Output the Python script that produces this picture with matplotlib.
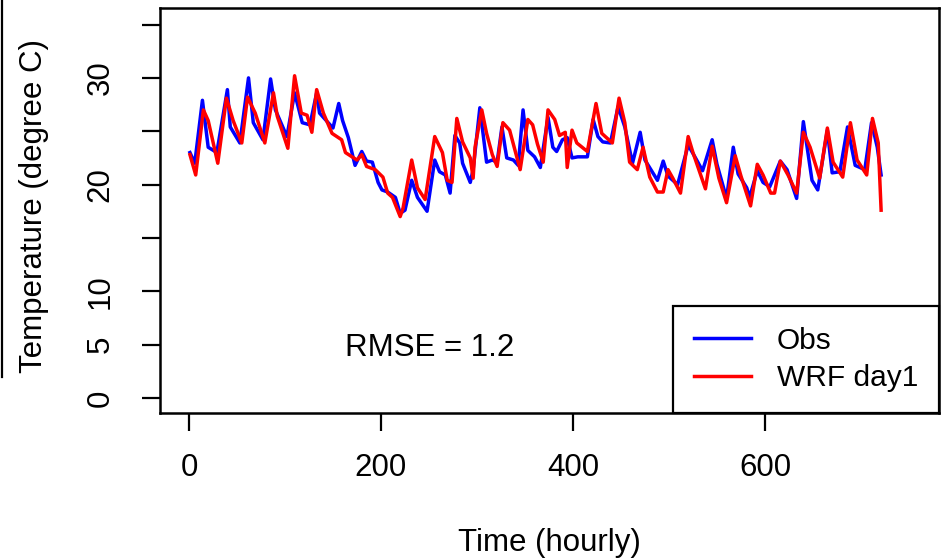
import matplotlib
matplotlib.use("Agg")
import matplotlib.pyplot as plt
from matplotlib.lines import Line2D

plt.rcParams['font.family'] = ['Liberation Sans', 'DejaVu Sans']

obs_hours = [1, 6, 14, 20, 29, 40, 43, 53, 62, 67, 77, 85, 90, 102, 110, 118, 126,
             133, 136, 150, 156, 160, 166, 173, 180, 185, 191, 197, 201, 207, 215,
             220, 225, 232, 238, 248, 256, 261, 267, 272, 277, 282, 285, 293, 296,
             303, 310, 316, 321, 326, 331, 338, 343, 348, 353, 360, 366, 374, 379,
             383, 389, 394, 399, 405, 415, 421, 426, 431, 439, 447, 454, 462, 470,
             475, 488, 494, 499, 509, 520, 527, 535, 545, 550, 560, 567, 572, 581,
             584, 592, 598, 605, 616, 623, 633, 640, 649, 655, 665, 670, 678, 686,
             694, 704, 711, 717, 721]
obs_temp = [23.0, 22.0, 27.9, 23.5, 23.0, 28.9, 25.4, 23.9, 30.0, 25.8, 24.2, 29.9,
            27.0, 24.5, 28.6, 25.8, 25.6, 28.6, 26.7, 25.3, 27.6, 26.0, 24.4, 21.8,
            23.1, 22.2, 22.1, 20.2, 19.5, 19.3, 18.8, 17.3, 17.6, 20.4, 18.8, 17.5,
            22.3, 21.2, 20.9, 19.2, 24.6, 23.9, 22.0, 20.2, 21.4, 27.2, 22.1, 22.3,
            22.1, 25.4, 22.5, 22.3, 21.8, 27.0, 23.2, 22.6, 21.6, 26.3, 23.5, 23.1,
            24.2, 24.4, 22.5, 22.6, 22.6, 26.1, 24.5, 24.0, 23.9, 27.3, 25.4, 22.0,
            24.9, 22.3, 20.4, 22.2, 20.8, 20.0, 23.7, 22.6, 21.3, 24.2, 21.9, 18.7,
            23.5, 21.0, 19.7, 18.8, 21.3, 20.2, 19.8, 22.2, 21.4, 18.7, 25.9, 20.4,
            19.5, 25.1, 21.1, 21.2, 25.4, 21.8, 21.4, 25.8, 23.5, 20.9]

# WRF day1 forecast (hour, degree C)
wrf_hours = [1, 7, 15, 20, 30, 39, 46, 55, 61, 69, 79, 88, 92, 103, 110, 117, 123,
             128, 133, 140, 149, 159, 163, 175, 180, 185, 194, 202, 207, 212, 220,
             223, 232, 238, 246, 256, 264, 269, 274, 279, 285, 293, 296, 298, 305,
             310, 316, 321, 327, 334, 345, 353, 358, 363, 369, 374, 381, 386, 392,
             394, 399, 404, 415, 424, 430, 441, 448, 454, 459, 467, 473, 480, 488,
             494, 499, 504, 512, 520, 525, 538, 545, 552, 560, 569, 575, 585, 592,
             598, 606, 610, 616, 624, 633, 640, 647, 657, 665, 671, 681, 689, 696,
             706, 712, 718, 721]
wrf_temp = [22.8, 20.9, 27.0, 26.0, 22.0, 28.1, 26.0, 23.9, 28.2, 26.7, 23.9, 28.6,
            26.4, 23.4, 30.2, 26.7, 26.5, 24.9, 28.9, 26.7, 24.8, 24.2, 23.0, 22.3,
            22.8, 21.7, 21.4, 20.7, 19.2, 18.8, 17.0, 17.8, 22.3, 19.7, 18.6, 24.5,
            23.0, 20.4, 20.2, 26.2, 24.0, 22.5, 20.6, 23.5, 27.0, 24.8, 22.8, 21.7,
            25.8, 25.1, 21.4, 26.1, 25.6, 23.8, 22.1, 27.0, 26.1, 24.6, 24.9, 21.6,
            25.1, 23.9, 23.1, 27.6, 24.8, 23.9, 28.1, 25.8, 22.1, 21.4, 23.5, 20.7,
            19.3, 19.3, 21.4, 20.6, 19.2, 24.5, 23.0, 19.6, 23.6, 20.6, 18.3, 22.7,
            20.8, 18.0, 21.9, 20.9, 19.2, 19.2, 22.2, 20.9, 19.2, 24.9, 23.5, 20.6,
            25.3, 22.1, 20.7, 25.8, 22.3, 20.9, 26.2, 23.9, 17.6]

x_ticks = [0, 200, 400, 600]
y_ticks = [0, 5, 10, 15, 20, 25, 30, 35]
y_tick_labels = ['0', '5', '10', '', '20', '', '30', '']

FS = 22.5
W, H = 941, 560
fig = plt.figure(figsize=(W / 100, H / 100), dpi=100)
ax = fig.add_axes([160 / W, 1 - 413 / H, (939 - 160) / W, (413 - 8) / H])

ax.plot(obs_hours, obs_temp, color='#0000FF', lw=2.5, label='Obs')
ax.plot(wrf_hours, wrf_temp, color='#FF0000', lw=2.5, label='WRF day1')

ax.set_xlim(-30.2, 781.3)
ax.set_ylim(-1.41, 36.55)

ax.set_xticks(x_ticks)
ax.set_yticks(y_ticks)
ax.set_yticklabels(y_tick_labels)
ax.tick_params(axis='both', direction='out', length=13, width=1.6,
               labelsize=FS, color='black')
ax.tick_params(axis='x', pad=16)
ax.tick_params(axis='y', pad=19)
plt.setp(ax.get_yticklabels(), rotation=90, va='center')
for s in ax.spines.values():
    s.set_linewidth(1.8)

ax.text(251, 4.7, 'RMSE = 1.2', fontsize=FS, ha='center', va='center')

leg = ax.legend(loc='lower right', borderaxespad=0, fontsize=21.5, fancybox=False,
                frameon=True, edgecolor='black', framealpha=1, handlelength=1.9,
                handletextpad=0.87, borderpad=0.70, labelspacing=0.32)
leg.get_frame().set_linewidth(1.6)

fig.text(34 / W, 1 - 206 / H, 'Temperature (degree C)', rotation=90,
         fontsize=FS, ha='center', va='center')
fig.text(549 / W, 1 - 543 / H, 'Time (hourly)', fontsize=FS,
         ha='center', va='center')

# edge of the neighbouring panel visible at the left border
fig.add_artist(Line2D([2 / W, 2 / W], [1, 1 - 377 / H], color='black', lw=1.6,
                      transform=fig.transFigure))

fig.savefig('out.png', dpi=100)
